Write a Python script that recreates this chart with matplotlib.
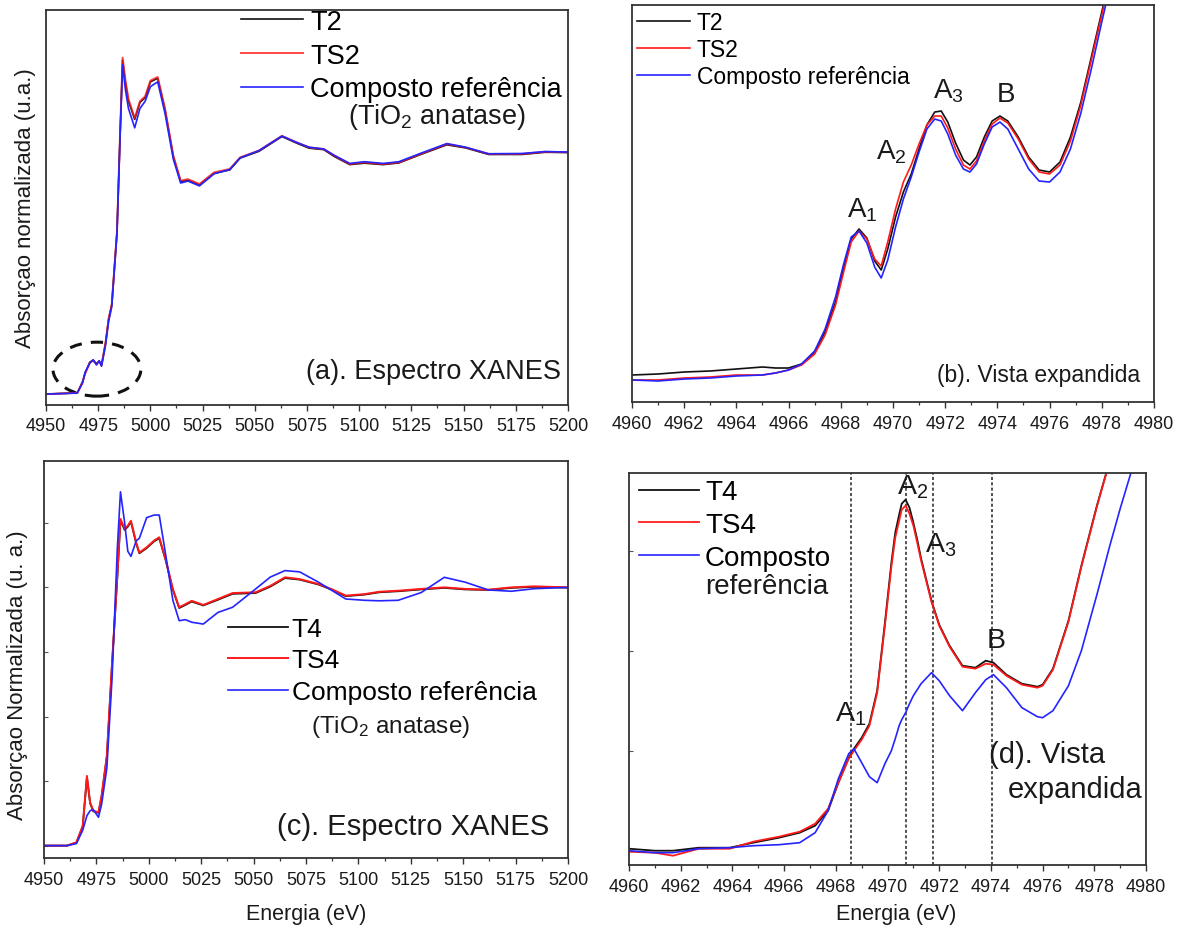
import matplotlib
matplotlib.use("Agg")
import matplotlib.pyplot as plt
from matplotlib.patches import Ellipse
from matplotlib.ticker import MultipleLocator

plt.rcParams["font.family"] = ["Liberation Sans", "DejaVu Sans"]
plt.rcParams["mathtext.fontset"] = "custom"
plt.rcParams["mathtext.rm"] = "Liberation Sans"
plt.rcParams["mathtext.it"] = "Liberation Sans:italic"
plt.rcParams["mathtext.default"] = "regular"

# ── (a) full XANES, T2 / TS2 / reference ─────────────────────────────────
energy_a = [4950, 4965, 4967.5, 4968.7, 4971, 4972.6, 4974.2, 4975.5, 4976.6, 4978.5,
            4980, 4981.5, 4984, 4985.5, 4986.7, 4988, 4989.5, 4992.5, 4995, 4997.5,
            5000, 5003.5, 5007, 5011, 5014.5, 5018, 5023.5, 5030.5, 5038, 5043,
            5052, 5063, 5070, 5076, 5083, 5088, 5095.5, 5102.5, 5111.5, 5119,
            5129.5, 5142, 5151, 5162, 5178, 5189, 5200]
t2_a = [0, 0.005, 0.05, 0.085, 0.132, 0.14, 0.126, 0.136, 0.12, 0.21,
        0.31, 0.37, 0.67, 1.07, 1.38, 1.29, 1.21, 1.135, 1.205, 1.225,
        1.29, 1.305, 1.175, 0.98, 0.878, 0.884, 0.864, 0.912, 0.926, 0.975,
        1.003, 1.064, 1.037, 1.016, 1.01, 0.982, 0.948, 0.954, 0.948, 0.955,
        0.99, 1.03, 1.017, 0.99, 0.99, 0.999, 0.998]
ts2_a = [0, 0.005, 0.05, 0.083, 0.13, 0.138, 0.124, 0.135, 0.118, 0.21,
         0.31, 0.37, 0.67, 1.08, 1.39, 1.30, 1.22, 1.14, 1.21, 1.23,
         1.295, 1.31, 1.18, 0.985, 0.882, 0.888, 0.868, 0.916, 0.93, 0.978,
         1.006, 1.067, 1.04, 1.019, 1.012, 0.985, 0.95, 0.957, 0.95, 0.957,
         0.992, 1.033, 1.019, 0.992, 0.992, 1.001, 0.999]
ref_a = [0, 0.004, 0.045, 0.09, 0.128, 0.142, 0.12, 0.138, 0.115, 0.2,
         0.3, 0.36, 0.66, 1.07, 1.36, 1.26, 1.18, 1.10, 1.18, 1.21,
         1.27, 1.29, 1.16, 0.97, 0.872, 0.88, 0.86, 0.91, 0.928, 0.976,
         1.006, 1.066, 1.04, 1.02, 1.013, 0.987, 0.953, 0.96, 0.953, 0.96,
         0.995, 1.035, 1.02, 0.993, 0.994, 1.002, 1.0]

# ── (b) pre-edge zoom, T2 / TS2 / reference ──────────────────────────────
energy_b = [4960, 4961, 4962, 4963, 4964, 4965, 4965.5, 4966, 4966.5, 4967,
            4967.4, 4967.8, 4968.1, 4968.4, 4968.7, 4969.0, 4969.3, 4969.55, 4969.8, 4970.1,
            4970.4, 4970.7, 4971.0, 4971.3, 4971.6, 4971.85, 4972.1, 4972.4, 4972.7, 4972.95,
            4973.2, 4973.5, 4973.8, 4974.1, 4974.4, 4974.8, 4975.2, 4975.6, 4976.0, 4976.4,
            4976.8, 4977.2, 4977.6, 4978.0, 4978.4]
t2_b = [0.002, 0.003, 0.005, 0.006, 0.008, 0.010, 0.009, 0.009, 0.013, 0.025,
        0.045, 0.075, 0.108, 0.138, 0.148, 0.139, 0.116, 0.107, 0.128, 0.160,
        0.185, 0.203, 0.228, 0.252, 0.265, 0.266, 0.255, 0.234, 0.217, 0.212,
        0.220, 0.240, 0.256, 0.261, 0.256, 0.240, 0.220, 0.207, 0.205, 0.215,
        0.240, 0.275, 0.320, 0.365, 0.410]
ts2_b = [-0.003, -0.003, -0.001, 0.000, 0.002, 0.002, 0.004, 0.007, 0.012, 0.023,
         0.042, 0.072, 0.104, 0.135, 0.146, 0.138, 0.118, 0.111, 0.135, 0.168,
         0.195, 0.212, 0.233, 0.252, 0.261, 0.261, 0.249, 0.228, 0.212, 0.208,
         0.216, 0.236, 0.253, 0.259, 0.254, 0.238, 0.218, 0.205, 0.203, 0.212,
         0.236, 0.272, 0.317, 0.362, 0.407]
ref_b = [-0.003, -0.004, -0.002, -0.001, 0.001, 0.002, 0.004, 0.007, 0.013, 0.026,
         0.048, 0.080, 0.112, 0.140, 0.146, 0.134, 0.110, 0.099, 0.117, 0.150,
         0.178, 0.200, 0.225, 0.248, 0.258, 0.256, 0.243, 0.222, 0.208, 0.205,
         0.213, 0.233, 0.250, 0.255, 0.248, 0.228, 0.208, 0.196, 0.195, 0.205,
         0.228, 0.264, 0.308, 0.355, 0.400]
peaks_b = ["A$_1$", "A$_2$", "A$_3$", "B"]
peaks_b_x = [4968.83, 4969.94, 4972.11, 4974.34]
peaks_b_y = [0.161, 0.219, 0.280, 0.276]

# ── (c) full XANES, T4 / TS4 / reference ─────────────────────────────────
energy_c = [4950, 4961, 4965.5, 4968.5, 4970.5, 4972, 4973.5, 4976, 4977.5, 4980,
            4982.5, 4985, 4986.5, 4988.5, 4990, 4991.5, 4994, 4995.5, 4999, 5002.5,
            5005, 5008, 5011.5, 5014.5, 5017.5, 5020.5, 5026, 5033, 5040, 5051,
            5058, 5065, 5072, 5081, 5087, 5094, 5103, 5110, 5119, 5130,
            5141, 5151, 5162, 5173, 5184, 5200]
t4_c = [0, 0, 0.012, 0.075, 0.265, 0.165, 0.133, 0.127, 0.19, 0.345,
        0.705, 1.04, 1.26, 1.222, 1.235, 1.254, 1.17, 1.132, 1.152, 1.178,
        1.19, 1.107, 0.99, 0.92, 0.932, 0.945, 0.93, 0.952, 0.975, 0.978,
        1.003, 1.036, 1.03, 1.011, 0.992, 0.966, 0.972, 0.981, 0.985, 0.992,
        0.998, 0.992, 0.99, 0.998, 1.002, 0.999]
ts4_c = [0, 0, 0.013, 0.077, 0.27, 0.168, 0.135, 0.129, 0.194, 0.348,
         0.71, 1.045, 1.265, 1.226, 1.239, 1.258, 1.174, 1.135, 1.155, 1.181,
         1.194, 1.11, 0.994, 0.923, 0.935, 0.948, 0.932, 0.955, 0.978, 0.981,
         1.006, 1.039, 1.032, 1.013, 0.994, 0.968, 0.974, 0.983, 0.987, 0.994,
         1.0, 0.994, 0.991, 1.0, 1.004, 1.0]
ref_c = [0, 0, 0.008, 0.06, 0.116, 0.135, 0.14, 0.11, 0.16, 0.30,
         0.65, 1.15, 1.37, 1.25, 1.14, 1.12, 1.18, 1.19, 1.27, 1.28,
         1.28, 1.13, 0.95, 0.871, 0.875, 0.865, 0.858, 0.903, 0.923, 0.994,
         1.04, 1.065, 1.06, 1.02, 0.99, 0.955, 0.95, 0.948, 0.95, 0.98,
         1.039, 1.02, 0.99, 0.985, 0.995, 1.0]

# ── (d) pre-edge zoom, T4 / TS4 / reference ──────────────────────────────
energy_d = [4960, 4961, 4961.7, 4962.7, 4963.9, 4964.8, 4965.8, 4966.6, 4967.2, 4967.7,
            4968.1, 4968.5, 4968.7, 4969.0, 4969.3, 4969.6, 4969.9, 4970.15, 4970.3, 4970.45,
            4970.55, 4970.7, 4970.85, 4971.0, 4971.15, 4971.3, 4971.7, 4972.0, 4972.4, 4972.9,
            4973.4, 4973.8, 4974.1, 4974.6, 4975.2, 4975.8, 4976.0, 4976.4, 4977.0, 4977.5,
            4978.1, 4978.6, 4979.0, 4979.5]
t4_d = [0.002, 0.000, 0.000, 0.003, 0.003, 0.008, 0.013, 0.018, 0.025, 0.040,
        0.068, 0.093, 0.102, 0.113, 0.127, 0.160, 0.228, 0.288, 0.318, 0.336,
        0.347, 0.351, 0.343, 0.328, 0.311, 0.292, 0.250, 0.226, 0.205, 0.185,
        0.183, 0.190, 0.188, 0.176, 0.167, 0.164, 0.166, 0.182, 0.230, 0.285,
        0.345, 0.390, 0.420, 0.460]
ts4_d = [-0.001, -0.002, -0.005, 0.002, 0.002, 0.009, 0.014, 0.019, 0.027, 0.042,
         0.068, 0.092, 0.100, 0.111, 0.125, 0.158, 0.225, 0.284, 0.313, 0.330,
         0.341, 0.345, 0.337, 0.325, 0.308, 0.290, 0.249, 0.225, 0.204, 0.184,
         0.182, 0.187, 0.186, 0.175, 0.166, 0.163, 0.165, 0.181, 0.229, 0.284,
         0.344, 0.390, 0.420, 0.460]
ref_d = [0.000, -0.002, -0.002, 0.002, 0.003, 0.005, 0.006, 0.008, 0.018, 0.040,
         0.072, 0.097, 0.102, 0.088, 0.074, 0.068, 0.087, 0.100, 0.112, 0.125,
         0.131, 0.138, 0.147, 0.155, 0.161, 0.167, 0.178, 0.170, 0.155, 0.140,
         0.158, 0.171, 0.176, 0.163, 0.143, 0.134, 0.133, 0.140, 0.165, 0.200,
         0.256, 0.305, 0.342, 0.385]
markers_d = [4968.6, 4970.7, 4971.75, 4974.05]
peaks_d = ["A$_1$", "A$_2$", "A$_3$", "B"]
peaks_d_x = [4968.59, 4970.99, 4972.07, 4974.22]
peaks_d_y = [0.130, 0.357, 0.299, 0.204]

BLACK = "#111111"
RED = "#ff1a1a"
BLUE = "#2424ff"
TXT = "#1a1a1a"


def style(ax, xlim, ylim, major, minor, yticks=False):
    ax.set_xlim(*xlim)
    ax.set_ylim(*ylim)
    ax.xaxis.set_major_locator(MultipleLocator(major))
    ax.xaxis.set_minor_locator(MultipleLocator(minor))
    ax.tick_params(axis="x", which="major", direction="out", length=4, width=1,
                   labelsize=13, pad=5, color="#333333", labelcolor=TXT)
    ax.tick_params(axis="x", which="minor", direction="out", length=2.5, width=0.9,
                   color="#333333")
    if yticks:
        ax.yaxis.set_major_locator(MultipleLocator(yticks))
        ax.tick_params(axis="y", which="major", direction="in", length=3, width=0.8,
                       labelleft=False, color="#555555")
    else:
        ax.set_yticks([])
    for s in ax.spines.values():
        s.set_linewidth(1.3)
        s.set_color("#333333")


fig = plt.figure(figsize=(11.85, 9.29), dpi=100)

# ── Panel (a) ────────────────────────────────────────────────────────────
ax = fig.add_axes([0.0388, 0.5630, 0.4405, 0.4252])
ax.plot(energy_a, t2_a, color=BLACK, lw=1.2, label="T2")
ax.plot(energy_a, ts2_a, color=RED, lw=1.4, alpha=0.8, label="TS2")
ax.plot(energy_a, ref_a, color=BLUE, lw=1.2, label="Composto referência")
style(ax, (4950, 5200), (-0.045, 1.587), 25, 12.5)
ax.add_patch(Ellipse((4974.4, 0.103), 42.1, 0.223, fill=False, ec="#111111",
                     lw=2.2, ls=(0, (4, 3))))
ax.legend(loc="upper left", bbox_to_anchor=(0.3736, 1.003), frameon=False,
          fontsize=19.5, handlelength=2.3, handletextpad=0.26, labelspacing=0.29,
          borderpad=0, borderaxespad=0)
ax.text(0.749, 0.732, "(TiO$_2$ anatase)", transform=ax.transAxes, fontsize=19.5,
        ha="center", va="center", color=TXT)
ax.text(0.987, 0.086, "(a). Espectro XANES", transform=ax.transAxes, fontsize=19.5,
        ha="right", va="center", color=TXT)
ax.set_ylabel("Absorçao normalizada (u.a.)", fontsize=16, color=TXT)
ax.yaxis.set_label_coords(-0.019, 0.5)

# ── Panel (b) ────────────────────────────────────────────────────────────
ax = fig.add_axes([0.5333, 0.5662, 0.4405, 0.4273])
ax.plot(energy_b, t2_b, color=BLACK, lw=1.2, label="T2")
ax.plot(energy_b, ts2_b, color=RED, lw=1.2, label="TS2")
ax.plot(energy_b, ref_b, color=BLUE, lw=1.2, label="Composto referência")
style(ax, (4960, 4980), (-0.025, 0.372), 2, 1)
ax.legend(loc="upper left", bbox_to_anchor=(0.0096, 0.986), frameon=False,
          fontsize=16.5, handlelength=2.31, handletextpad=0.3, labelspacing=0.18,
          borderpad=0, borderaxespad=0)
for lab, px, py in zip(peaks_b, peaks_b_x, peaks_b_y):
    ax.text(px, py, lab, fontsize=20, ha="center", va="baseline", color=TXT)
ax.text(0.973, 0.0705, "(b). Vista expandida", transform=ax.transAxes, fontsize=16.5,
        ha="right", va="center", color=TXT)

# ── Panel (c) ────────────────────────────────────────────────────────────
ax = fig.add_axes([0.0371, 0.0753, 0.4422, 0.4273])
ax.plot(energy_c, t4_c, color=BLACK, lw=1.3, label="T4")
ax.plot(energy_c, ts4_c, color=RED, lw=1.4, label="TS4")
ax.plot(energy_c, ref_c, color=BLUE, lw=1.2, label="Composto referência")
style(ax, (4950, 5200), (-0.048, 1.489), 25, 12.5, yticks=0.25)
ax.legend(loc="upper left", bbox_to_anchor=(0.351, 0.607), frameon=False,
          fontsize=19, handlelength=2.27, handletextpad=0.15, labelspacing=0.28,
          borderpad=0, borderaxespad=0)
ax.text(0.662, 0.332, "(TiO$_2$ anatase)", transform=ax.transAxes, fontsize=17.5,
        ha="center", va="center", color=TXT)
ax.text(0.964, 0.081, "(c). Espectro XANES", transform=ax.transAxes, fontsize=21,
        ha="right", va="center", color=TXT)
ax.set_ylabel("Absorçao Normalizada (u. a.)", fontsize=16, color=TXT)
ax.yaxis.set_label_coords(-0.03, 0.463)
ax.set_xlabel("Energia (eV)", fontsize=15.5, color=TXT)
ax.xaxis.set_label_coords(0.5, -0.112)

# ── Panel (d) ────────────────────────────────────────────────────────────
ax = fig.add_axes([0.5308, 0.0678, 0.4363, 0.4220])
for m in markers_d:
    ax.axvline(m, color="#222222", lw=1.1, ls=(0, (2, 1.5)))
ax.plot(energy_d, t4_d, color=BLACK, lw=1.3, label="T4")
ax.plot(energy_d, ts4_d, color=RED, lw=1.3, label="TS4")
ax.plot(energy_d, ref_d, color=BLUE, lw=1.2, label="Composto")
style(ax, (4960, 4980), (-0.0143, 0.3777), 2, 1, yticks=0.1)
ax.legend(loc="upper left", bbox_to_anchor=(0.019, 0.984), frameon=False,
          fontsize=20, handlelength=2.16, handletextpad=0.22, labelspacing=0.24,
          borderpad=0, borderaxespad=0)
ax.text(0.147, 0.712, "referência", transform=ax.transAxes, fontsize=20,
        ha="left", va="center", color=TXT)
for lab, px, py in zip(peaks_d, peaks_d_x, peaks_d_y):
    ax.text(px, py, lab, fontsize=20.5, ha="center", va="baseline", color=TXT)
ax.text(0.696, 0.283, "(d). Vista", transform=ax.transAxes, fontsize=21,
        ha="left", va="center", color=TXT)
ax.text(0.733, 0.194, "expandida", transform=ax.transAxes, fontsize=21,
        ha="left", va="center", color=TXT)
ax.set_xlabel("Energia (eV)", fontsize=15.5, color=TXT)
ax.xaxis.set_label_coords(0.516, -0.098)

fig.savefig("out.png", dpi=100, facecolor="white")
